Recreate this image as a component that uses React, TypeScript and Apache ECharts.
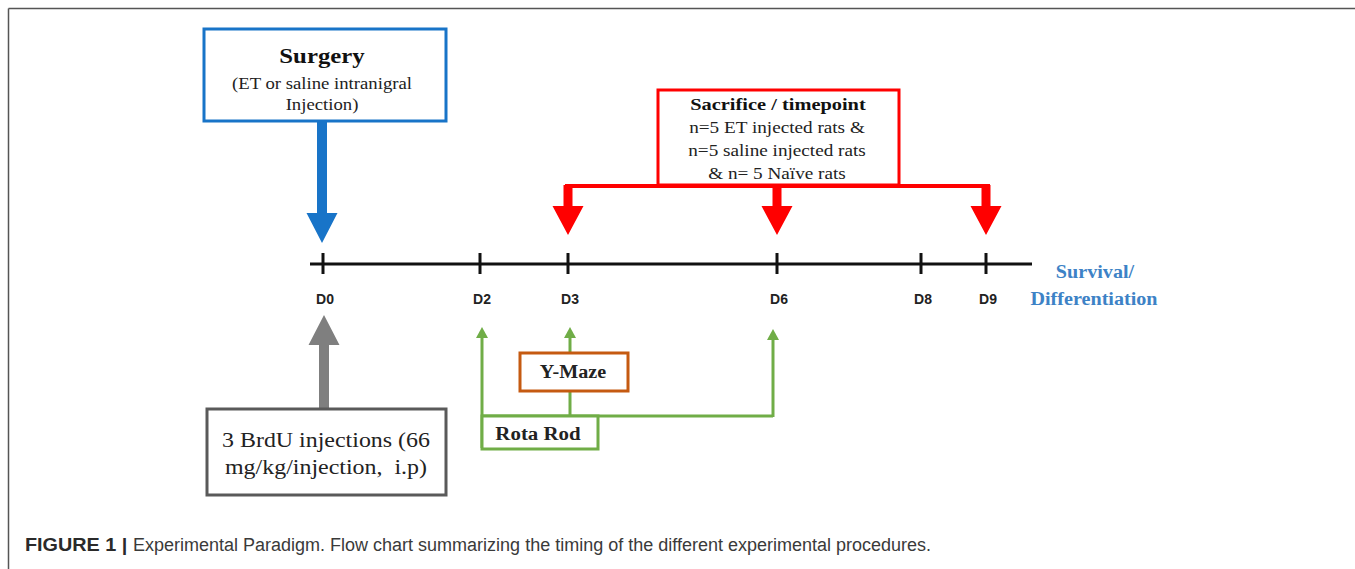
import React, { useEffect, useRef } from "react";
import * as echarts from "echarts";

// Timeline days and their horizontal positions (px)
const days = ["D0", "D2", "D3", "D6", "D8", "D9"];
const dayX = [323, 480, 568, 777, 921, 986];
const timelineY = 264;
const timelineStart = 310;
const timelineEnd = 1032;

// Box texts
const surgeryTitle = "Surgery";
const surgeryLines = ["(ET or saline intranigral", "Injection)"];
const sacrificeTitle = "Sacrifice / timepoint";
const sacrificeLines = ["n=5 ET injected rats &", "n=5 saline injected rats", "& n= 5 Naïve rats"];
const brduLines = ["3 BrdU injections (66", "mg/kg/injection,  i.p)"];
const yMazeLabel = "Y-Maze";
const rotaRodLabel = "Rota Rod";
const endLabel = ["Survival/", "Differentiation"];
const captionBold = "FIGURE 1 |";
const captionText = "Experimental Paradigm. Flow chart summarizing the timing of the different experimental procedures.";

// Which days receive sacrifice arrows / behaviour arrows
const sacrificeDays = ["D3", "D6", "D9"];
const rotaRodDays = ["D2", "D6"];
const yMazeDays = ["D3"];

const SERIF = "Liberation Serif";
const SANS = "Liberation Sans";

const BLUE = "#1874c8";
const RED = "#ff0000";
const GRAY = "#7f7f7f";
const DARKGRAY = "#5a5a5a";
const GREEN = "#70ad47";
const ORANGE = "#c55a11";

function xOf(d: string) {
  return dayX[days.indexOf(d)];
}

function arrow(cx: number, y0: number, yBase: number, yTip: number, sw: number, hw: number, color: string) {
  return {
    type: "polygon",
    shape: {
      points: [
        [cx - sw / 2, y0],
        [cx + sw / 2, y0],
        [cx + sw / 2, yBase],
        [cx + hw / 2, yBase],
        [cx, yTip],
        [cx - hw / 2, yBase],
        [cx - sw / 2, yBase],
      ],
    },
    style: { fill: color },
  };
}

function txt(
  text: string,
  x: number,
  y: number,
  size: number,
  weight: string,
  family: string,
  fill: string,
  sx = 1,
  align = "center"
) {
  return {
    type: "text",
    x,
    y,
    scaleX: sx,
    style: {
      text,
      x: 0,
      y: 0,
      fontSize: size,
      fontWeight: weight,
      fontFamily: family,
      fill,
      align,
      textAlign: align,
      verticalAlign: "middle",
      textVerticalAlign: "middle",
    },
  };
}

function box(x: number, y: number, w: number, h: number, color: string, lw = 3) {
  return {
    type: "rect",
    shape: { x, y, width: w, height: h },
    style: { fill: "#ffffff", stroke: color, lineWidth: lw },
  };
}

function line(x1: number, y1: number, x2: number, y2: number, color: string, lw: number) {
  return {
    type: "line",
    shape: { x1, y1, x2, y2 },
    style: { stroke: color, lineWidth: lw },
  };
}

function greenUpArrow(cx: number, yTip: number, yBottom: number) {
  return [
    line(cx, yTip + 8, cx, yBottom, GREEN, 3),
    {
      type: "polygon",
      shape: { points: [[cx - 6, yTip + 11], [cx + 6, yTip + 11], [cx, yTip]] },
      style: { fill: GREEN },
    },
  ];
}

export default function App() {
  const ref = useRef<HTMLDivElement>(null);
  useEffect(() => {
    if (!ref.current) return;
    const chart = echarts.init(ref.current, undefined, { renderer: "svg" });

    const elements: any[] = [];
    // outer frame
    elements.push(line(8.5, 8.5, 1355, 8.5, "#555555", 1.5));
    elements.push(line(8.5, 8.5, 8.5, 569, "#555555", 1.5));

    // Surgery box + arrow
    elements.push(arrow(xOf("D0") - 1, 120, 213, 243, 10, 31, BLUE));
    elements.push(box(204, 29, 242, 92, BLUE, 3));
    elements.push(txt(surgeryTitle, 322, 56, 21, "bold", SERIF, "#111111", 1.18));
    surgeryLines.forEach((l, i) => elements.push(txt(l, 322, 83 + i * 21, 16, "normal", SERIF, "#222222", 1.17)));

    // Sacrifice box, red connector, arrows
    const redLeft = xOf(sacrificeDays[0]) - 3;
    const redRight = xOf(sacrificeDays[sacrificeDays.length - 1]) + 4;
    elements.push(line(redLeft, 186, redRight, 186, RED, 4));
    sacrificeDays.forEach((d) => elements.push(arrow(xOf(d), 185, 206, 235, 9, 31, RED)));
    elements.push(box(658, 90, 241, 95, RED, 3));
    elements.push(txt(sacrificeTitle, 778, 104, 17, "bold", SERIF, "#111111", 1.2));
    sacrificeLines.forEach((l, i) => elements.push(txt(l, 777, 128 + i * 23, 16, "normal", SERIF, "#222222", 1.2)));

    // Timeline
    elements.push(line(timelineStart, timelineY, timelineEnd, timelineY, "#111111", 3));
    days.forEach((d, i) => {
      elements.push(line(dayX[i], 253, dayX[i], 274, "#111111", 3));
      elements.push(txt(d, dayX[i] + 2, 299, 14, "bold", SANS, "#222222"));
    });
    elements.push(txt(endLabel[0], 1095, 272, 19, "bold", SERIF, "#3d82c6", 1.06));
    elements.push(txt(endLabel[1], 1094, 299, 19, "bold", SERIF, "#3d82c6", 1.06));

    // BrdU box + gray arrow
    elements.push(arrow(xOf("D0") + 1, 410, 345, 315, 10, 31, GRAY));
    elements.push(box(207, 409, 239, 86, DARKGRAY, 3));
    brduLines.forEach((l, i) => elements.push(txt(l, 326, 440 + i * 27, 21, "normal", SERIF, "#222222", 1.14)));

    // Green behaviour connectors
    const greenY = 416;
    const rrLeft = xOf(rotaRodDays[0]) + 2;
    const rrRight = xOf(rotaRodDays[rotaRodDays.length - 1]) - 4;
    elements.push(line(rrLeft, greenY, rrRight, greenY, GREEN, 3));
    elements.push(...greenUpArrow(rrLeft, 327, 448));
    elements.push(...greenUpArrow(rrRight, 329, greenY + 1));
    const ymX = xOf(yMazeDays[0]) + 2;
    elements.push(...greenUpArrow(ymX, 327, greenY));
    elements.push(box(482, 416, 116, 33, GREEN, 3));
    elements.push(txt(rotaRodLabel, 538, 433, 19, "bold", SERIF, "#222222", 1.1));
    elements.push(box(520, 353, 108, 38, ORANGE, 3));
    elements.push(txt(yMazeLabel, 573, 372, 19, "bold", SERIF, "#222222", 1.06));

    // Caption
    elements.push(txt(captionBold, 25, 545, 18, "bold", SANS, "#2a2a2a", 1.1, "left"));
    elements.push(txt(captionText, 133, 545, 18, "normal", SANS, "#3a3a3a", 1, "left"));

    chart.setOption({
      animation: false,
      backgroundColor: "#ffffff",
      graphic: { elements },
    });
    return () => chart.dispose();
  }, []);
  return (
    <div
      ref={ref}
      style={{ position: "absolute", left: 0, top: 0, width: 1355, height: 569 }}
    />
  );
}
